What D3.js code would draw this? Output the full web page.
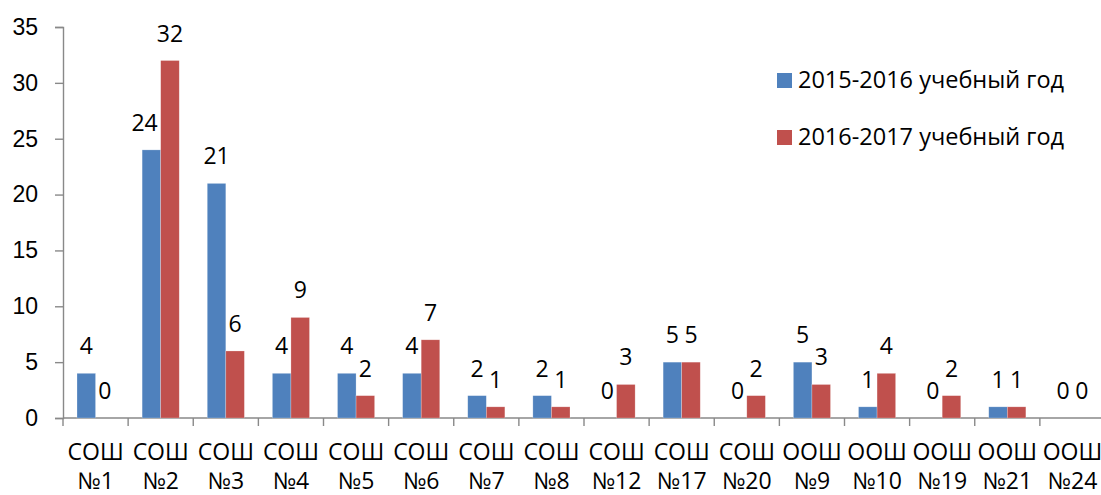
<!DOCTYPE html>
<html>
<head>
<meta charset="utf-8">
<script src="https://cdn.jsdelivr.net/npm/d3@7"></script>
<style>
  body { margin: 0; background: #fff; }
  svg { display: block; font-family: 'Open Sans', sans-serif; }
</style>
</head>
<body>
<div id="chart"></div>
<script>
// Schools, two school years
const SCHOOL_TYPES = ['СОШ', 'СОШ', 'СОШ', 'СОШ', 'СОШ', 'СОШ', 'СОШ', 'СОШ',
  'СОШ', 'СОШ', 'СОШ', 'ООШ', 'ООШ', 'ООШ', 'ООШ', 'ООШ'];
const SCHOOL_NUMBERS = ['№1', '№2', '№3', '№4', '№5', '№6', '№7', '№8',
  '№12', '№17', '№20', '№9', '№10', '№19', '№21', '№24'];
const SERIES_NAMES = ['2015-2016 учебный год', '2016-2017 учебный год'];
const VALUES_2015 = [4, 24, 21, 4, 4, 4, 2, 2, 0, 5, 0, 5, 1, 0, 1, 0];
const VALUES_2016 = [0, 32, 6, 9, 2, 7, 1, 1, 3, 5, 2, 3, 4, 2, 1, 0];
const Y_TICKS = [0, 5, 10, 15, 20, 25, 30, 35];

const COLORS = ['#4f81bd', '#c0504d'];
const AXIS_COLOR = '#898989';

const W = 1101;
const H = 495;
const margin = { top: 27, right: -4, bottom: 77, left: 63 };
const innerW = W - margin.left - margin.right;
const innerH = H - margin.top - margin.bottom;
const LABEL_GAP = 19;

const categories = SCHOOL_NUMBERS.map((n, i) => `${SCHOOL_TYPES[i]} ${n}`);
const seriesValues = [VALUES_2015, VALUES_2016];

const svg = d3
  .select('#chart')
  .append('svg')
  .attr('width', W)
  .attr('height', H);

const g = svg
  .append('g')
  .attr('transform', `translate(${margin.left},${margin.top})`);

const x0 = d3
  .scaleBand()
  .domain(categories)
  .range([0, innerW])
  .paddingInner(0.43)
  .paddingOuter(0.215);

const x1 = d3
  .scaleBand()
  .domain(SERIES_NAMES)
  .range([0, x0.bandwidth()]);

const y = d3
  .scaleLinear()
  .domain([0, 35])
  .range([innerH, 0]);

// y axis
const yAxis = g
  .append('g')
  .call(d3.axisLeft(y).tickValues(Y_TICKS).tickSize(8).tickPadding(17));
yAxis.select('.domain').attr('stroke', AXIS_COLOR).attr('stroke-width', 1.4);
yAxis.selectAll('.tick line').attr('stroke', AXIS_COLOR).attr('stroke-width', 1.4);
yAxis
  .selectAll('.tick text')
  .attr('fill', '#000')
  .style('font-size', '23px');

// x axis: baseline plus boundary ticks between categories
const xAxis = g.append('g').attr('transform', `translate(0,${innerH})`);
xAxis
  .append('line')
  .attr('x1', 0)
  .attr('x2', innerW)
  .attr('stroke', AXIS_COLOR)
  .attr('stroke-width', 1.4);
const step = x0.step();
xAxis
  .selectAll('line.tick')
  .data(d3.range(categories.length + 1))
  .enter()
  .append('line')
  .attr('class', 'tick')
  .attr('x1', i => i * step)
  .attr('x2', i => i * step)
  .attr('y1', 0)
  .attr('y2', 8)
  .attr('stroke', AXIS_COLOR)
  .attr('stroke-width', 1.4);

const catLabels = xAxis
  .selectAll('text.cat')
  .data(categories)
  .enter()
  .append('text')
  .attr('class', 'cat')
  .attr('text-anchor', 'middle')
  .style('font-size', '23px')
  .attr('fill', '#000');
catLabels
  .append('tspan')
  .attr('x', d => x0(d) + x0.bandwidth() / 2)
  .attr('y', 42)
  .text((d, i) => SCHOOL_TYPES[i]);
catLabels
  .append('tspan')
  .attr('x', d => x0(d) + x0.bandwidth() / 2)
  .attr('y', 71)
  .text((d, i) => SCHOOL_NUMBERS[i]);

// bars
const groups = g
  .selectAll('g.cat')
  .data(categories)
  .enter()
  .append('g')
  .attr('class', 'cat')
  .attr('transform', d => `translate(${x0(d)},0)`);

const cells = groups
  .selectAll('g.bar')
  .data((d, i) => SERIES_NAMES.map((s, j) => ({
    s, j, v: seriesValues[j][i], other: seriesValues[1 - j][i],
  })))
  .enter()
  .append('g')
  .attr('class', 'bar');

cells
  .append('rect')
  .attr('x', d => x1(d.s))
  .attr('width', x1.bandwidth())
  .attr('y', d => y(d.v))
  .attr('height', d => innerH - y(d.v))
  .attr('fill', d => COLORS[d.j])
  .attr('stroke', '#fff')
  .attr('stroke-opacity', 0.4)
  .attr('stroke-width', 0.6);

const labels = cells
  .append('text')
  .attr('x', d => x1(d.s) + x1.bandwidth() / 2)
  .attr('y', d => y(d.v) - LABEL_GAP)
  .attr('text-anchor', 'middle')
  .style('font-size', '23px')
  .attr('fill', '#000')
  .text(d => d.v);

// push a first-series label left when it would run into the taller neighbour bar
labels.each(function (d) {
  if (d.j !== 0) return;
  const w = this.getComputedTextLength();
  const over = w / 2 - x1.bandwidth() / 2;
  if (over > 0 && y(d.other) < y(d.v) - LABEL_GAP) {
    d3.select(this).attr('x', x1(d.s) + x1.bandwidth() / 2 - over - 3);
  }
});

// legend
const legend = svg
  .selectAll('g.legend')
  .data(SERIES_NAMES)
  .enter()
  .append('g')
  .attr('class', 'legend')
  .attr('transform', (d, i) => `translate(777,${73 + i * 57})`);
legend
  .append('rect')
  .attr('width', 15)
  .attr('height', 15)
  .attr('fill', (d, i) => COLORS[i]);
legend
  .append('text')
  .attr('x', 21)
  .attr('y', 15)
  .style('font-size', '23.5px')
  .attr('fill', '#000')
  .text(d => d);
</script>
</body>
</html>
